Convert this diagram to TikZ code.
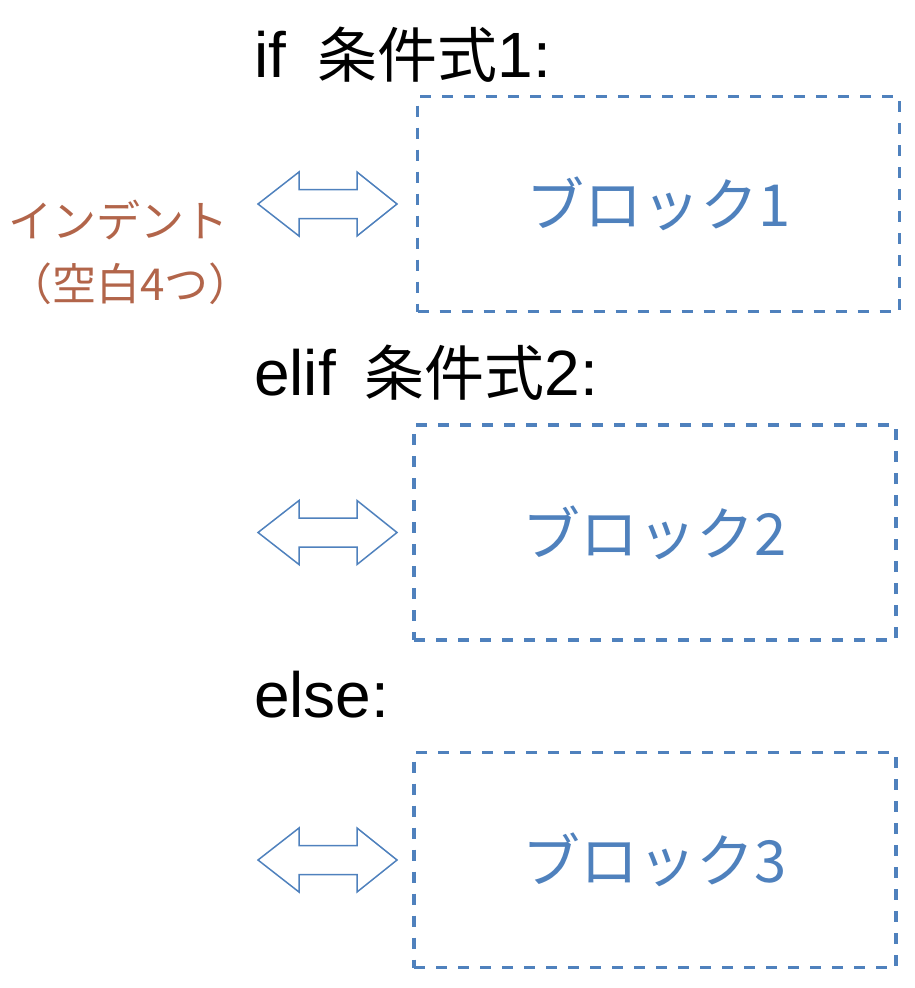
\documentclass[tikz,border=0pt]{standalone}
\usepackage{fontspec}
\setmainfont{Noto Sans CJK JP}
\newfontfamily\latinfont{Liberation Sans}
\newcommand{\lat}[1]{{\latinfont\fontsize{64}{70}\selectfont #1}}
\definecolor{blockblue}{RGB}{79,129,189}
\definecolor{indentbrown}{RGB}{178,101,74}
\begin{document}
\begin{tikzpicture}[x=1pt,y=-1pt]
			\tikzstyle{code}=[anchor=base west,inner sep=0pt,font=\fontsize{60}{70}\selectfont]
			\tikzstyle{block}=[draw=blockblue,line width=3.5pt,dash pattern=on 11pt off 11pt,minimum width=482pt,minimum height=215pt,inner sep=0pt,text=blockblue,font=\fontsize{58}{70}\selectfont]
			\tikzstyle{twoway}=[draw=blockblue,line width=1.5pt,line join=miter]
				\useasboundingbox (0,0) rectangle (914,988);
				\node[code](c1) at (254,77){\lat{if }\hspace{14pt}条件式\lat{1:}};
				\node[code](c2) at (254,395){\lat{elif }\hspace{11pt}条件式\lat{2:}};
				\node[code](c3) at (254,717){\lat{else:}};
				\node[block](b1) at (658.5,204){ブロック1};
				\node[block](b2) at (655,532.5){ブロック2};
				\node[block](b3) at (655,860){ブロック3};
				\node[anchor=west,align=left,inner sep=0pt,text=indentbrown,font=\fontsize{44}{63}\selectfont](ind) at (8,252){インデント\\（空白4つ）};
				\foreach \y in {204,532.5,860}
					\draw[twoway] (258,\y) -- ++(41,-32) -- ++(0,17.5) -- ++(58,0) -- ++(0,-17.5)
						-- ++(40,32) -- ++(-40,32) -- ++(0,-17.5) -- ++(-58,0) -- ++(0,17.5) -- cycle;
			\end{tikzpicture}
\end{document}
